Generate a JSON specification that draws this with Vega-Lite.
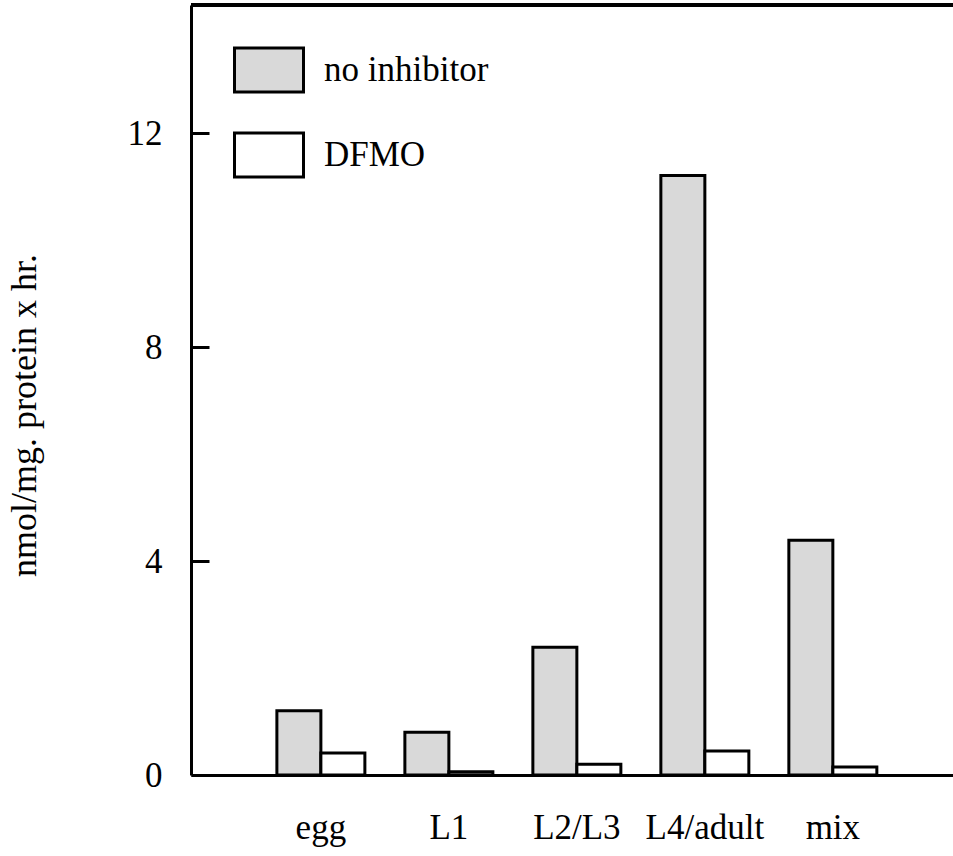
{
  "$schema": "https://vega.github.io/schema/vega-lite/v6.json",
  "autosize": "none",
  "padding": {"left": 191, "top": 5, "right": 0, "bottom": 81},
  "width": 762,
  "height": 770,
  "background": "white",
  "config": {
    "view": {"stroke": null},
    "font": "Liberation Serif",
    "axis": {"labelFont": "Liberation Serif", "titleFont": "Liberation Serif", "labelColor": "black", "titleColor": "black", "grid": false}
  },
  "data": {
    "values": [
      {"stage": "egg", "condition": "no inhibitor", "value": 1.2},
      {"stage": "egg", "condition": "DFMO", "value": 0.41},
      {"stage": "L1", "condition": "no inhibitor", "value": 0.8},
      {"stage": "L1", "condition": "DFMO", "value": 0.06},
      {"stage": "L2/L3", "condition": "no inhibitor", "value": 2.39},
      {"stage": "L2/L3", "condition": "DFMO", "value": 0.2},
      {"stage": "L4/adult", "condition": "no inhibitor", "value": 11.21},
      {"stage": "L4/adult", "condition": "DFMO", "value": 0.45},
      {"stage": "mix", "condition": "no inhibitor", "value": 4.39},
      {"stage": "mix", "condition": "DFMO", "value": 0.15}
    ]
  },
  "layer": [
    {
      "mark": {"type": "bar", "stroke": "black", "strokeWidth": 3},
      "encoding": {
        "x": {
          "field": "stage", "type": "nominal",
          "scale": {"domain": ["egg", "L1", "L2/L3", "L4/adult", "mix"], "paddingInner": 0.3125, "paddingOuter": 0.633, "align": 0.53},
          "axis": {"title": null, "labelAngle": 0, "ticks": false, "domain": true, "domainColor": "black", "domainWidth": 3, "labelFontSize": 35, "labelBaseline": "alphabetic", "labelPadding": 63}
        },
        "xOffset": {"field": "condition", "type": "nominal", "scale": {"domain": ["no inhibitor", "DFMO"], "paddingInner": 0, "paddingOuter": 0}},
        "y": {
          "field": "value", "type": "quantitative",
          "scale": {"domain": [0, 14.4], "nice": false, "zero": true},
          "axis": {"title": "nmol/mg. protein x hr.", "values": [0, 4, 8, 12], "domain": true, "domainColor": "black", "domainWidth": 3, "tickColor": "black", "tickWidth": 3, "tickSize": -18, "labelPadding": 47, "labelFontSize": 35, "titleFontSize": 36, "titleFontWeight": "normal", "titleX": -156, "titleY": 410, "titleBaseline": "alphabetic", "titleAngle": -90, "titleAlign": "center"}
        },
        "fill": {
          "field": "condition", "type": "nominal",
          "scale": {"domain": ["no inhibitor", "DFMO"], "range": ["#d9d9d9", "white"]},
          "legend": {
            "title": null, "orient": "none", "legendX": 42, "legendY": 29,
            "symbolType": "M-1,-0.638L1,-0.638L1,0.638L-1,0.638Z",
            "symbolSize": 4761, "symbolStrokeColor": "black", "symbolStrokeWidth": 3, "symbolOpacity": 1,
            "labelFont": "Liberation Serif", "labelFontSize": 35, "labelColor": "black", "labelOffset": 19, "rowPadding": 20, "labelLimit": 400
          }
        }
      }
    },
    {
      "mark": {"type": "rule", "color": "black", "strokeWidth": 3},
      "encoding": {"y": {"datum": 14.4}}
    }
  ]
}
